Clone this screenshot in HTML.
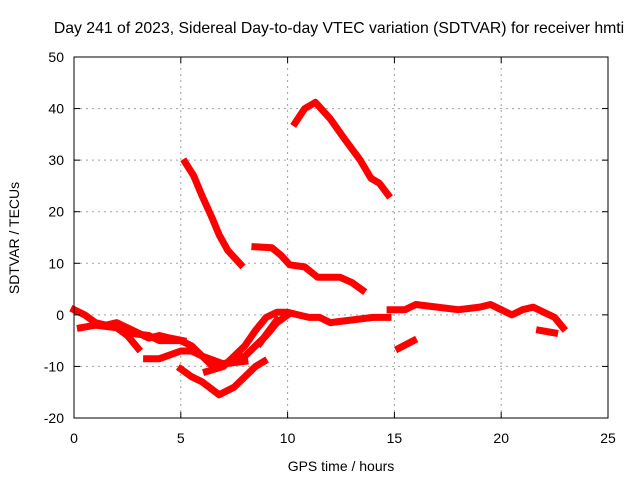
<!DOCTYPE html>
<html><head><meta charset="utf-8"><style>
body{margin:0;background:#fff;}
svg{display:block;font-family:"Liberation Sans",sans-serif;}
</style></head><body>
<svg id="chart" width="640" height="480">
<rect width="640" height="480" fill="#fff"/>
<g id="grid"></g>
<g id="series"></g>
<rect x="74" y="57" width="534" height="361" fill="none" stroke="#000" stroke-width="1"/>
<g id="axes"></g>
<text x="339" y="33" font-size="15.8" text-anchor="middle">Day 241 of 2023, Sidereal Day-to-day VTEC variation (SDTVAR) for receiver hmti</text>
<text x="341" y="471" font-size="14" text-anchor="middle">GPS time / hours</text>
<text transform="translate(19,238) rotate(-90)" font-size="14" text-anchor="middle">SDTVAR / TECUs</text>
</svg>
<script>
const xTicks=[0,5,10,15,20,25];
const yTicks=[-20,-10,0,10,20,30,40,50];
const seg1H=[10.35,10.8,11.3,12,12.7,13.4,13.9,14.3,14.7];
const seg1V=[37.2,40,41.2,38,33.9,30,26.5,25.5,23.3];
const seg2H=[5.2,5.6,6.0,6.4,6.8,7.2,7.8];
const seg2V=[29.6,27,23,19.4,15.5,12.5,9.8];
const seg3H=[8.47,9.27,9.7,10.1,10.8,11.4,12.45,13.0,13.5];
const seg3V=[13.2,13,11.5,9.7,9.3,7.3,7.3,6.3,4.8];
const segAH=[0,0.5,1,1.5,2,2.5,3,3.5,4,4.5,5.1];
const segAV=[1,0,-1.5,-2,-1.5,-2.5,-3.5,-4.5,-4,-4.5,-5];
const segBH=[0.3,1,2,2.5,3];
const segBV=[-2.5,-2,-2.5,-4,-6.5];
const segCH=[2.5,3.5,4,5,5.5,6,7,8];
const segCV=[-3.5,-4,-5,-5,-6,-8,-9.5,-9];
const segDH=[3.4,4,5,5.5,6,6.5,7,8,9,9.5,10];
const segDV=[-8.5,-8.5,-7,-7,-8,-10,-9.5,-8,-4,-1.5,0];
const segEH=[5,5.5,6,6.8,7.5,8,8.5,8.9];
const segEV=[-10.5,-12,-13,-15.5,-14,-12,-10,-9];
const segFH=[6.2,7,8,8.5,9,9.5,10,10.5,11,11.5,12,13,14,14.7];
const segFV=[-11,-10,-6,-3,-0.5,0.5,0.5,0,-0.5,-0.5,-1.5,-1,-0.5,-0.5];
const segGH=[8.7,9.5];
const segGV=[-5.5,-1];
const segRH=[14.8,15.5,16,17,18,19,19.5,20,20.5,21,21.5,22,22.5,22.9];
const segRV=[1,1,2,1.5,1,1.5,2,1,0,1,1.5,0.5,-0.5,-2.5];
const segSH=[15.2,15.9];
const segSV=[-6.5,-5];
const segTH=[21.8,22.5];
const segTV=[-3,-3.5];
const segments=[[seg1H,seg1V],[seg2H,seg2V],[seg3H,seg3V],[segAH,segAV],[segBH,segBV],[segCH,segCV],[segDH,segDV],[segEH,segEV],[segFH,segFV],[segGH,segGV],[segRH,segRV],[segSH,segSV],[segTH,segTV]];
const X0=74,X1=608,Y0=418,Y1=57;
const sx=h=>X0+(h-0)/(25-0)*(X1-X0);
const sy=v=>Y0-(v+20)/70*(Y0-Y1);
const NS="http://www.w3.org/2000/svg";
const grid=document.getElementById('grid'),axes=document.getElementById('axes'),ser=document.getElementById('series');
function mk(tag,attrs,parent){const e=document.createElementNS(NS,tag);for(const k in attrs)e.setAttribute(k,attrs[k]);parent.appendChild(e);return e;}
xTicks.forEach(t=>{const x=sx(t);
 if(t>0&&t<25){const l=mk('line',{x1:x,x2:x,y1:Y0,y2:Y1,stroke:'#a0a0a0','stroke-dasharray':'2,4'},grid);
 
 }
 mk('line',{x1:x,x2:x,y1:Y0,y2:Y0-6,stroke:'#000'},axes);mk('line',{x1:x,x2:x,y1:Y1,y2:Y1+6,stroke:'#000'},axes);
 const tx=mk('text',{x:x,y:Y0+25,'font-size':14,'text-anchor':'middle'},axes);tx.textContent=t;
 
 });
yTicks.forEach(t=>{const y=sy(t);
 if(t>-20&&t<50){const l=mk('line',{x1:X0,x2:X1,y1:y,y2:y,stroke:'#a0a0a0','stroke-dasharray':'2,4'},grid);
 
 }
 mk('line',{x1:X0,x2:X0+6,y1:y,y2:y,stroke:'#000'},axes);mk('line',{x1:X1,x2:X1-6,y1:y,y2:y,stroke:'#000'},axes);
 const tx=mk('text',{x:X0-10,y:y+5,'font-size':14,'text-anchor':'end'},axes);tx.textContent=t;
 
 });
segments.forEach(([H,V])=>{const pts=H.map((h,i)=>sx(h).toFixed(1)+','+sy(V[i]).toFixed(1)).join(' ');
 const p=mk('polyline',{points:pts,fill:'none',stroke:'#ff0000','stroke-width':7,'stroke-linejoin':'round','stroke-linecap':'square'},ser);
 
 });
</script>
</body></html>
